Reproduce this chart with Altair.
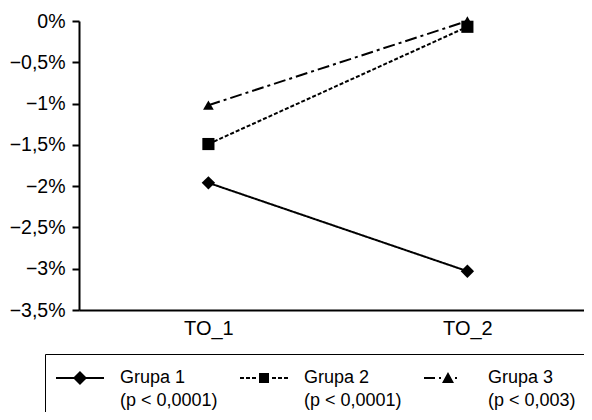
import altair as alt
import pandas as pd

# ---- data ----
timepoints = ["TO_1", "TO_2"]
groups = ["Grupa 1", "Grupa 2", "Grupa 3"]
p_texts = ["(p < 0,0001)", "(p < 0,0001)", "(p < 0,003)"]
grupa1 = [-1.96, -3.03]
grupa2 = [-1.49, -0.07]
grupa3 = [-1.02, 0.0]
y_ticks = [0, -0.5, -1, -1.5, -2, -2.5, -3, -3.5]

rows = []
for g, vals in zip(groups, [grupa1, grupa2, grupa3]):
    for t, v in zip(timepoints, vals):
        rows.append({"group": g, "time": t, "value": v})
df = pd.DataFrame(rows)

FONT = "Liberation Sans, Arial, sans-serif"
dashes = [[1, 0], [4, 2], [12, 4, 3, 4]]
marker_shapes = ["diamond", "square", "triangle-up"]
marker_sizes = [180, 115, 125]

# ---- legend symbol glyphs (line segment + marker), built in px then scaled ----
SYM = 676          # legend symbolSize -> unit = sqrt(SYM)/2 px
UNIT = (SYM ** 0.5) / 2
SHIFT_X = 11       # marker sits 11px right of the symbol's layout centre
SHIFT_Y = 0


def _pt(x, y):
    return f"{(x + SHIFT_X) / UNIT:.3f},{(y + SHIFT_Y) / UNIT:.3f}"


def seg(x0, x1, h=1):
    return f"M{_pt(x0, -h)}L{_pt(x1, -h)}L{_pt(x1, h)}L{_pt(x0, h)}Z"


def poly(pts):
    return "M" + "L".join(_pt(x, y) for x, y in pts) + "Z"


legend_paths = [
    seg(-24, 24) + poly([(-7, 0), (0, -7), (7, 0), (0, 7)]),
    "".join(seg(a, b) for a, b in [(-24, -20), (-18, -14), (-12, -8), (8, 12), (14, 18), (20, 24)])
    + poly([(-5, -5), (5, -5), (5, 5), (-5, 5)]),
    "".join(seg(a, b) for a, b in [(-24, -13), (-9, -7), (7, 9)])
    + poly([(0, -6), (6, 5), (-6, 5)]),
]

label_expr = (
    "[datum.label, " + str(p_texts) + "[indexof(" + str(groups) + ", datum.label)]]"
)

x = alt.X(
    "time:N",
    scale=alt.Scale(type="point", domain=timepoints, padding=0.475, align=0.526),
    axis=alt.Axis(title=None, ticks=False, domainWidth=2, labelFontSize=20,
                  labelPadding=8, labelAngle=0),
)
y = alt.Y(
    "value:Q",
    scale=alt.Scale(domain=[-3.5, 0], nice=False, zero=False),
    axis=alt.Axis(values=y_ticks, title=None, grid=False, tickSize=7, tickWidth=2,
                  domainWidth=2, labelFontSize=19.5, labelPadding=7,
                  labelExpr="replace(format(datum.value, '.1~f'), '.', ',') + '%'"),
)

lines = alt.Chart(df).mark_line(color="black", strokeWidth=2).encode(
    x=x, y=y,
    strokeDash=alt.StrokeDash("group:N", scale=alt.Scale(domain=groups, range=dashes), legend=None),
    detail="group:N",
)

points = alt.Chart(df).mark_point(filled=True, color="black", opacity=1).encode(
    x=x, y=y,
    shape=alt.Shape("group:N", scale=alt.Scale(domain=groups, range=marker_shapes), legend=None),
    size=alt.Size("group:N", scale=alt.Scale(domain=groups, range=marker_sizes), legend=None),
)

legend = alt.Legend(
    title=None, orient="none", legendX=-34, legendY=333, direction="horizontal",
    columns=3, strokeColor="black", padding=10, symbolSize=SYM,
    labelExpr=label_expr, labelFontSize=18, labelOffset=37, columnPadding=19,
    gridAlign="all", labelFont=FONT, labelColor="black", labelBaseline="middle",
    labelLimit=300,
)

legend_layer = alt.Chart(df).transform_filter("false").mark_point(
    filled=True, color="black", opacity=1
).encode(
    x=x, y=y,
    shape=alt.Shape("group:N", scale=alt.Scale(domain=groups, range=legend_paths), legend=legend),
)

chart = (
    alt.layer(lines, points, legend_layer)
    .resolve_scale(shape="independent", strokeDash="independent", size="independent")
    .properties(
        width=505, height=289,
        autosize=alt.AutoSizeParams(type="none"),
        padding={"left": 71, "top": 13, "right": 0, "bottom": 102},
    )
    .configure(style={"guide-label": {"lineHeight": 23}})
    .configure_view(stroke=None)
    .configure_axis(domainColor="black", tickColor="black", labelColor="black", labelFont=FONT)
)

chart.save("out.html", embed_options={"renderer": "svg", "actions": False})
